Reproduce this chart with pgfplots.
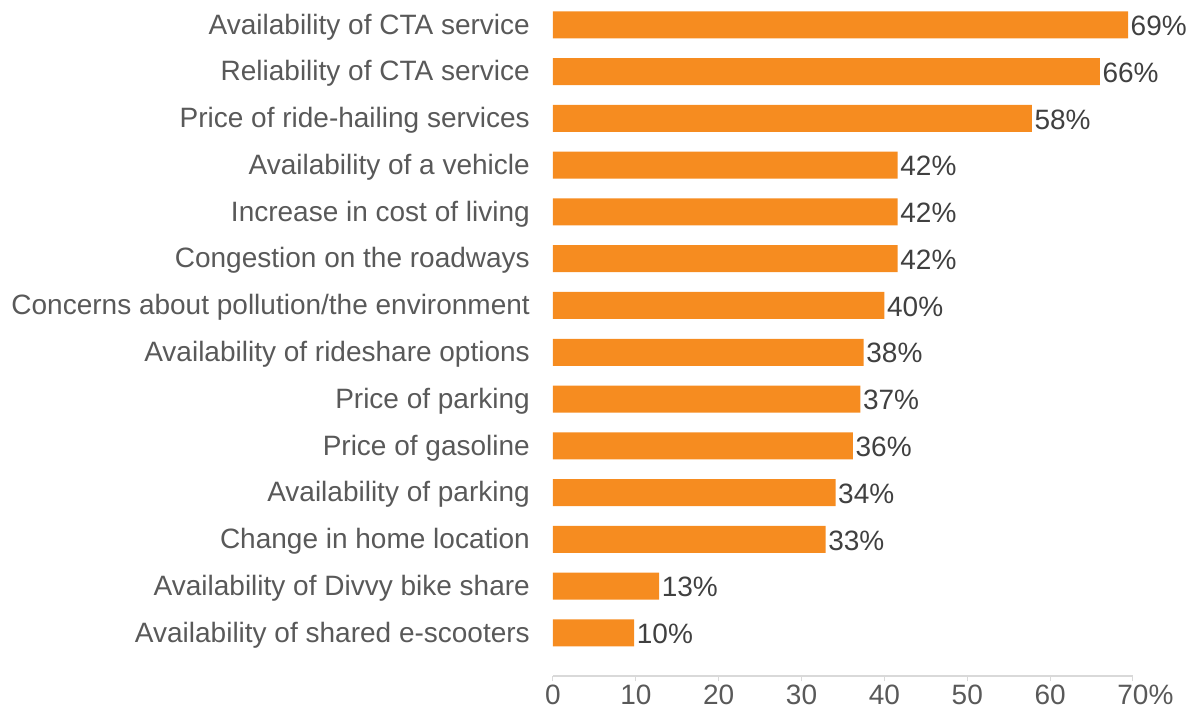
\documentclass[border=0pt]{standalone}
\usepackage{pgfplots}
\pgfplotsset{compat=1.18}
\usepackage{pgfplotstable}
\usepackage{fontspec}
\setmainfont{Liberation Sans}
\definecolor{barorange}{HTML}{F68C20}
\definecolor{labgray}{HTML}{595959}
\definecolor{valgray}{HTML}{404040}
\definecolor{axgray}{HTML}{D9D9D9}
\pgfplotstableread{
y x lab
0 69.4 69
1 66.0 66
2 57.8 58
3 41.6 42
4 41.6 42
5 41.6 42
6 40.0 40
7 37.5 38
8 37.1 37
9 36.2 36
10 34.1 34
11 32.9 33
12 12.8 13
13 9.8 10
}\datatable
\begin{document}
\begin{tikzpicture}
\useasboundingbox (-553pt,-34pt) rectangle (641pt,676pt);
\begin{axis}[
  at={(0pt,0pt)}, anchor=south west,
  scale only axis,
  width=580pt, height=676pt,
  xmin=0, xmax=70,
  ymin=-0.53, ymax=13.92,
  y dir=reverse,
  axis x line*=bottom, axis y line*=left,
  x axis line style={draw=axgray, line width=1.5pt, -},
  y axis line style={draw=none},
  xtick={0,10,...,70},
  xticklabels={0,10,20,30,40,50,60,70\rlap{\%}},
  ytick={0,...,13},
  yticklabels={
    Availability of CTA service,
    Reliability of CTA service,
    Price of ride-hailing services,
    Availability of a vehicle,
    Increase in cost of living,
    Congestion on the roadways,
    Concerns about pollution/the environment,
    Availability of rideshare options,
    Price of parking,
    Price of gasoline,
    Availability of parking,
    Change in home location,
    Availability of Divvy bike share,
    Availability of shared e-scooters},
  tick align=outside,
  xtick style={draw=axgray, line width=1pt},
  ytick style={draw=none},
  major tick length=5pt,
  xticklabel style={font=\fontsize{28}{32}\selectfont, text=labgray, inner sep=0pt, yshift=-4pt},
  yticklabel style={font=\fontsize{28}{32}\selectfont, text=labgray, inner sep=0pt, xshift=-18pt, yshift=-2pt},
  /pgf/number format/assume math mode=true,
  clip=false,
]
\addplot[xbar, bar width=27pt, fill=barorange, draw=none,
  point meta=explicit,
  nodes near coords={\pgfmathprintnumber{\pgfplotspointmeta}\%},
  nodes near coords align={horizontal},
  every node near coord/.append style={font=\fontsize{28}{32}\selectfont, text=valgray, inner sep=2.5pt, anchor=west, yshift=-1pt},
] table[x=x, y=y, meta=lab] {\datatable};
\end{axis}
\end{tikzpicture}
\end{document}
